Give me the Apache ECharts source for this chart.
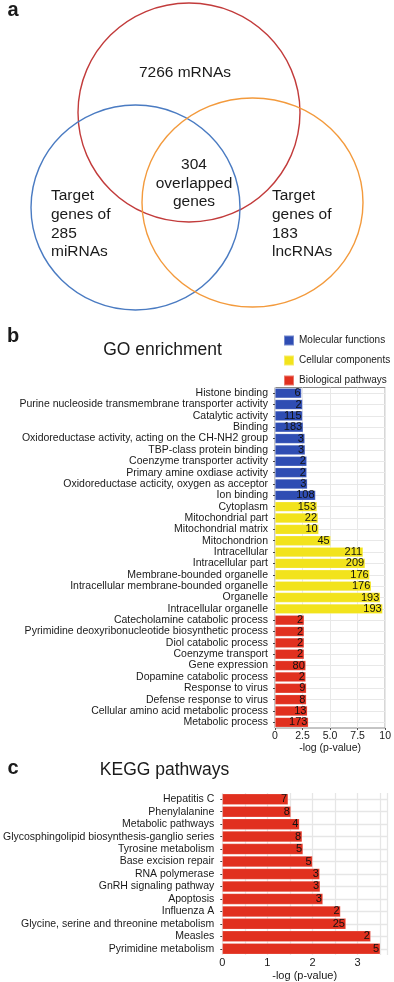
<!DOCTYPE html>
<html>
<head>
<meta charset="utf-8">
<script src="https://cdn.jsdelivr.net/npm/echarts@6/dist/echarts.min.js"></script>
<style>
  html, body { margin: 0; padding: 0; background: #fff; }
  #chart { width: 394px; height: 982px; }
</style>
</head>
<body>
<div id="chart"></div>
<script>
// venn counts
const vennCounts = [7266, 304, 285, 183];

// GO enrichment
const goGroupNames = ["Molecular functions", "Cellular components", "Biological pathways"];
const goColors = ["#2f4db3", "#f2e31c", "#e1301f"];
const goTerms = [
  "Histone binding",
  "Purine nucleoside transmembrane transporter activity",
  "Catalytic activity",
  "Binding",
  "Oxidoreductase activity, acting on the CH-NH2 group",
  "TBP-class protein binding",
  "Coenzyme transporter activity",
  "Primary amine oxdiase activity",
  "Oxidoreductase acticity, oxygen as acceptor",
  "Ion binding",
  "Cytoplasm",
  "Mitochondrial part",
  "Mitochondrial matrix",
  "Mitochondrion",
  "Intracellular",
  "Intracellular part",
  "Membrane-bounded organelle",
  "Intracellular membrane-bounded organelle",
  "Organelle",
  "Intracellular organelle",
  "Catecholamine catabolic process",
  "Pyrimidine deoxyribonucleotide biosynthetic process",
  "Diol catabolic process",
  "Coenzyme transport",
  "Gene expression",
  "Dopamine catabolic process",
  "Response to virus",
  "Defense response to virus",
  "Cellular amino acid metabolic process",
  "Metabolic process"
];
const goGroup = [0,0,0,0,0,0,0,0,0,0, 1,1,1,1,1,1,1,1,1,1, 2,2,2,2,2,2,2,2,2,2];
const goLogP = [2.41, 2.5, 2.5, 2.56, 2.71, 2.74, 2.89, 2.89, 2.94, 3.68,
  3.82, 3.91, 3.97, 5.06, 8.0, 8.18, 8.59, 8.74, 9.56, 9.77,
  2.65, 2.65, 2.65, 2.65, 2.8, 2.8, 2.85, 2.85, 2.94, 3.03];
const goGenes = [6, 2, 115, 183, 3, 3, 2, 2, 3, 108,
  153, 22, 10, 45, 211, 209, 176, 176, 193, 193,
  2, 2, 2, 2, 80, 2, 9, 8, 13, 173];
const goTicks = [0, 2.5, 5, 7.5, 10];

// KEGG pathways
const keggTerms = [
  "Hepatitis C",
  "Phenylalanine",
  "Metabolic pathways",
  "Glycosphingolipid biosynthesis-ganglio series",
  "Tyrosine metabolism",
  "Base excision repair",
  "RNA polymerase",
  "GnRH signaling pathway",
  "Apoptosis",
  "Influenza A",
  "Glycine, serine and threonine metabolism",
  "Measles",
  "Pyrimidine metabolism"
];
const keggLogP = [1.46, 1.52, 1.71, 1.77, 1.79, 2.0, 2.16, 2.17, 2.23, 2.62, 2.74, 3.29, 3.5];
const keggGenes = [7, 8, 4, 8, 5, 5, 3, 3, 3, 2, 25, 2, 5];
const keggTicks = [0, 1, 2, 3];

const FONT = '"Liberation Sans", Arial, Helvetica, sans-serif';
const chart = echarts.init(document.getElementById("chart"));

function txt(text, x, y, size, opts) {
  return {
    type: "text",
    style: Object.assign({
      text: text, x: x, y: y,
      font: size + "px " + FONT,
      fill: "#1a1a1a",
      textAlign: "center",
      textVerticalAlign: "middle"
    }, opts || {})
  };
}

function ring(cx, cy, rx, ry, color) {
  return {
    type: "ellipse",
    shape: { cx: cx, cy: cy, rx: rx, ry: ry },
    style: { fill: null, stroke: color, lineWidth: 1.4 }
  };
}

const goSeries = goGroupNames.map((name, g) => ({
  name: name,
  type: "bar",
  stack: "go",
  xAxisIndex: 0,
  yAxisIndex: 0,
  barCategoryGap: "12%",
  itemStyle: { color: goColors[g], borderColor: "rgba(255,255,255,0.35)", borderWidth: 0.6 },
  label: {
    show: true,
    position: "insideRight",
    distance: 1,
    fontSize: 11,
    fontFamily: FONT,
    color: "#111",
    formatter: p => goGenes[p.dataIndex]
  },
  data: goLogP.map((v, i) => goGroup[i] === g ? v : "-")
}));

const option = {
  animation: false,
  backgroundColor: "#fff",
  textStyle: { fontFamily: FONT },
  legend: {
    data: goGroupNames,
    orient: "vertical",
    left: 278,
    top: 329,
    itemWidth: 10,
    itemHeight: 10,
    itemGap: 7,
    icon: "rect",
    textStyle: { fontSize: 10, lineHeight: 13, color: "#1a1a1a", fontFamily: FONT }
  },
  grid: [
    { left: 275, top: 387.5, width: 113.5, height: 340.5, show: true, borderColor: "#8a8a8a", borderWidth: 1, backgroundColor: "#fff" },
    { left: 220.5, top: 793, width: 166.5, height: 163.3 }
  ],
  xAxis: [
    {
      gridIndex: 0, type: "value", min: 0, max: 10, interval: 1.25,
      name: "-log (p-value)", nameLocation: "middle", nameGap: 13,
      nameTextStyle: { fontSize: 10.5, color: "#1a1a1a" },
      axisLine: { show: false },
      axisTick: { show: true, length: 2, customValues: goTicks, lineStyle: { color: "#555" } },
      axisLabel: {
        customValues: goTicks, margin: 3, fontSize: 10.5, color: "#1a1a1a",
        formatter: v => (v === 0 || v === 10) ? String(v) : v.toFixed(1)
      },
      splitLine: { show: true, lineStyle: { color: "#e8e8e8", width: 1 } }
    },
    {
      gridIndex: 1, type: "value", min: 0, max: 3.65, interval: 0.5,
      name: "-log (p-value)", nameLocation: "middle", nameGap: 15,
      nameTextStyle: { fontSize: 11, color: "#1a1a1a" },
      axisLine: { show: false },
      axisTick: { show: false },
      axisLabel: { customValues: keggTicks, margin: 2, fontSize: 11, color: "#1a1a1a" },
      splitLine: { show: true, lineStyle: { color: "#e6e6e6", width: 1.3 } }
    }
  ],
  yAxis: [
    {
      gridIndex: 0, type: "category", inverse: true, data: goTerms,
      axisLine: { show: false },
      axisTick: { show: true, length: 2, alignWithLabel: true, lineStyle: { color: "#444" } },
      axisLabel: { fontSize: 10.5, color: "#1a1a1a", margin: 7, interval: 0 },
      splitLine: { show: true, alignWithLabel: true, interval: 0, lineStyle: { color: "#e8e8e8" } }
    },
    {
      gridIndex: 1, type: "category", inverse: true, data: keggTerms,
      axisLine: { show: false },
      axisTick: { show: true, length: 2, alignWithLabel: true, lineStyle: { color: "#444" } },
      axisLabel: { fontSize: 10.5, color: "#1a1a1a", margin: 8, interval: 0 },
      splitLine: { show: true, alignWithLabel: true, interval: 0, lineStyle: { color: "#e6e6e6", width: 1.3 } }
    }
  ],
  series: goSeries.concat([
    {
      name: "KEGG",
      type: "bar",
      xAxisIndex: 1,
      yAxisIndex: 1,
      barCategoryGap: "11%",
      itemStyle: { color: "#e1301f", borderColor: "rgba(255,255,255,0.35)", borderWidth: 0.6 },
      label: {
        show: true,
        position: "insideRight",
        distance: 1,
        fontSize: 11,
        fontFamily: FONT,
        color: "#111",
        formatter: p => keggGenes[p.dataIndex]
      },
      data: keggLogP
    }
  ]),
  graphic: [
    ring(189, 112.5, 111, 109.5, "#c23b3b"),
    ring(135.5, 207.5, 104.5, 102.5, "#4a7bc2"),
    ring(252.5, 202.5, 110.5, 104.5, "#f39a3c"),
    txt(vennCounts[0] + " mRNAs", 185, 73, 15.5),
    txt(vennCounts[1] + "\noverlapped\ngenes", 194, 183.5, 15.5, { lineHeight: 18.7 }),
    txt("Target\ngenes of\n" + vennCounts[2] + "\nmiRNAs", 51, 224, 15.5, { textAlign: "left", lineHeight: 18.7 }),
    txt("Target\ngenes of\n" + vennCounts[3] + "\nlncRNAs", 272, 224, 15.5, { textAlign: "left", lineHeight: 18.7 }),
    txt("a", 13, 10, 20, { font: "bold 20px " + FONT }),
    txt("b", 13, 336, 20, { font: "bold 20px " + FONT }),
    txt("c", 13, 768, 20, { font: "bold 20px " + FONT }),
    txt("GO enrichment", 162.5, 350, 17.5),
    txt("KEGG pathways", 164.5, 770, 17.5)
  ]
};

chart.setOption(option);
</script>
</body>
</html>
